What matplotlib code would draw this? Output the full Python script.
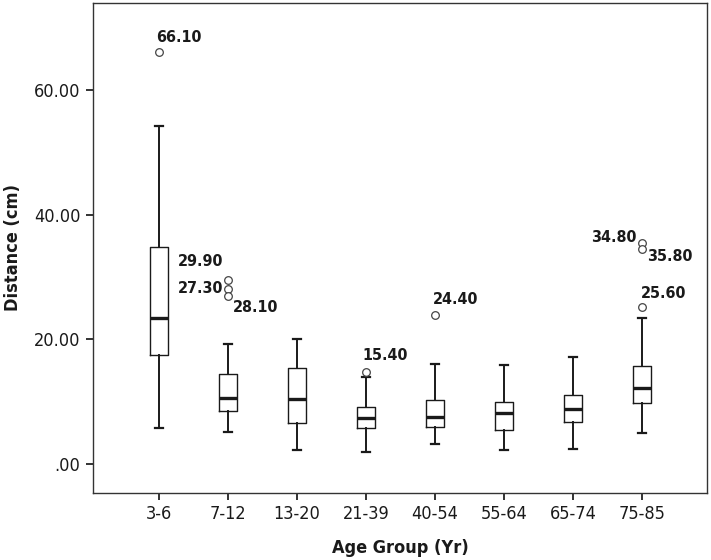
import matplotlib
matplotlib.use('Agg')
import matplotlib.pyplot as plt

plt.rcParams['font.family'] = ['Liberation Sans Narrow', 'DejaVu Sans']
plt.rcParams['font.stretch'] = 'condensed'

groups = ['3-6', '7-12', '13-20', '21-39', '40-54', '55-64', '65-74', '75-85']
whislo = [5.8, 5.0, 2.2, 1.9, 3.2, 2.2, 2.3, 4.9]
q1 = [17.5, 8.5, 6.6, 5.7, 5.9, 5.4, 6.7, 9.7]
med = [23.4, 10.6, 10.4, 7.3, 7.5, 8.2, 8.7, 12.2]
q3 = [34.9, 14.4, 15.3, 9.1, 10.2, 9.9, 11.1, 15.7]
whishi = [54.2, 19.2, 20.1, 14.0, 16.0, 15.9, 17.2, 23.4]
fliers = [[66.1], [29.5, 28.0, 26.9], [], [14.8], [23.9], [], [], [25.1, 35.5, 34.5]]
flier_labels = [['66.10'], ['29.90', '27.30', '28.10'], [], ['15.40'], ['24.40'], [], [],
                ['25.60', '34.80', '35.80']]

y_ticks = [0, 20, 40, 60]
y_ticklabels = ['.00', '20.00', '40.00', '60.00']

# label placement: (ha, dx px, dy px up)
label_pos = {'66.10': ('left', -3, 15), '15.40': ('left', -4, 16), '24.40': ('left', -2, 15),
             '25.60': ('left', -1, 14), '29.90': ('right', -5, 19), '27.30': ('right', -5, 1),
             '28.10': ('left', 5, -11), '34.80': ('right', -5, 5), '35.80': ('left', 5, -7)}

ink = '#1a1a1a'

fig = plt.figure(figsize=(7.11, 5.6), dpi=100)
ax = fig.add_axes([93/711, 1-492.7/560, 614/711, 489.7/560])

stats = []
for i in range(len(groups)):
    stats.append(dict(whislo=whislo[i], q1=q1[i], med=med[i], q3=q3[i],
                      whishi=whishi[i], fliers=fliers[i], label=groups[i]))

ax.bxp(stats, positions=range(1, len(groups)+1), widths=0.26, capwidths=0.13,
       boxprops=dict(color=ink, linewidth=1.0),
       medianprops=dict(color=ink, linewidth=2.4),
       whiskerprops=dict(color=ink, linewidth=1.4),
       capprops=dict(color=ink, linewidth=1.6),
       flierprops=dict(marker='o', markersize=5.5, markerfacecolor='white',
                       markeredgecolor='#444444', markeredgewidth=0.9))

for i in range(len(groups)):
    for v, lab in zip(fliers[i], flier_labels[i]):
        ha, dx, dy = label_pos[lab]
        ax.annotate(lab, (i+1, v), xytext=(dx*0.72, dy*0.72), textcoords='offset points',
                    ha=ha, va='center', fontsize=11.5, fontweight='bold', color=ink)

ax.set_xlim(0.0435, 8.942)
ax.set_ylim(-4.68, 74.05)
ax.set_yticks(y_ticks)
ax.set_yticklabels(y_ticklabels)
ax.set_xticks(range(1, len(groups)+1))
ax.set_xticklabels(groups)
ax.tick_params(axis='both', direction='out', length=5, width=1.4, color='#333333',
               labelsize=13, labelcolor=ink, pad=4)

for s in ax.spines.values():
    s.set_color('#333333')
    s.set_linewidth(1.0)

ax.set_xlabel('Age Group (Yr)', fontsize=13, fontweight='bold', color=ink, va='center')
ax.set_ylabel('Distance (cm)', fontsize=13, fontweight='bold', color=ink, va='center')
ax.xaxis.set_label_coords(0.5, -0.113)
ax.yaxis.set_label_coords(-0.130, 0.5)

fig.savefig('out.png', dpi=100)
